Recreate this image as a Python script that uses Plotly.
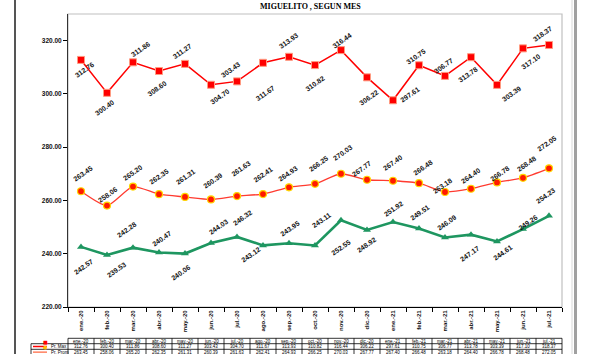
import plotly.graph_objects as go

# ---------------- data ----------------
months = ["ene.-20", "feb.-20", "mar.-20", "abr.-20", "may.-20", "jun.-20", "jul.-20",
          "ago.-20", "sep.-20", "oct.-20", "nov.-20", "dic.-20", "ene.-21", "feb.-21",
          "mar.-21", "abr.-21", "may.-21", "jun.-21", "jul.-21"]
pr_max = [312.76, 300.40, 311.86, 308.60, 311.27, 303.43, 304.70, 311.67, 313.93, 310.82,
          316.44, 306.22, 297.61, 310.75, 306.77, 313.78, 303.39, 317.10, 318.37]
pr_prom = [263.45, 258.06, 265.20, 262.35, 261.31, 260.39, 261.63, 262.41, 264.93, 266.25,
           270.03, 267.77, 267.40, 266.48, 263.18, 264.40, 266.78, 268.48, 272.05]
pr_min = [242.57, 239.53, 242.28, 240.47, 240.06, 244.03, 246.32, 243.12, 243.95, 243.11,
          252.55, 248.92, 251.92, 249.51, 246.09, 247.17, 244.61, 249.26, 254.23]
series_names = ["Pr. Max", "Pr. Prom", "Pr. Min"]
title_text = "MIGUELITO , SEGUN MES"

# ---------------- styles (label offsets in screen px: dx right, dy down) ----------------
off_max = [(4, 10), (-2, 15), (7, -13), (-2, 17), (-3, -12), (20, -15), (-17, 15), (2, 31),
           (0, -16), (0, 18), (1, -10), (2, 20), (17, -6), (-3, -9), (-1, -10), (-3, 17),
           (15, 9), (8, 13), (-6, -11)]
off_prom = [(2, -18), (1, -11), (0, -14), (0, -18), (1, -20), (2, -19), (4, -28), (0, -20),
            (-1, -14), (4, -20), (2, -21), (-5, -11), (0, -18), (4, -16), (-2, -6), (0, -13),
            (3, -9), (4, -14), (-2, -25)]
off_min = [(3, 20), (10, 15), (-6, -18), (3, -14), (-4, 19), (8, -16), (6, -19), (-12, 9),
           (1, -15), (6, -25), (0, 27), (0, 15), (1, -13), (1, -16), (2, -15), (-1, 19),
           (6, 11), (5, -7), (-3, -20)]

C_MAX = "#FF0000"
C_PROM_LINE = "#FF3B30"
C_MIN = "#1E9660"
FONT = "Liberation Sans"

W, H = 590, 354
L, R, T, B = 68, 28, 14, 47
PW, PH = W - L - R, H - T - B


def px2py(py):
    return (H - B - py) / PH


def px2px(px):
    return (px - L) / PW


fig = go.Figure()
fig.add_trace(go.Scatter(x=months, y=pr_max, mode="lines+markers", name=series_names[0],
                         line=dict(color=C_MAX, width=1.5),
                         marker=dict(symbol="square", size=7, color=C_MAX,
                                     line=dict(color="#FF9A80", width=1))))
fig.add_trace(go.Scatter(x=months, y=pr_prom, mode="lines+markers", name=series_names[1],
                         line=dict(color=C_PROM_LINE, width=1.3, shape="spline", smoothing=0.6),
                         marker=dict(symbol="circle", size=7, color="#FF1A00",
                                     line=dict(color="#FFD700", width=1.2))))
fig.add_trace(go.Scatter(x=months, y=pr_min, mode="lines+markers", name=series_names[2],
                         line=dict(color=C_MIN, width=2.6),
                         marker=dict(symbol="triangle-up", size=7, color=C_MIN)))

annotations = []
for vals, offs in ((pr_max, off_max), (pr_prom, off_prom), (pr_min, off_min)):
    for m, v, (dx, dy) in zip(months, vals, offs):
        annotations.append(dict(x=m, y=v, xref="x", yref="y", text=f"{v:.2f}",
                                showarrow=False, textangle=-35, xshift=dx, yshift=-dy,
                                font=dict(family=FONT, size=7, color="#111", weight="bold")))

# title (partially cropped in the original)
annotations.append(dict(x=px2px(310), y=px2py(0.5), xref="paper", yref="paper",
                        text=title_text, showarrow=False, xanchor="center", yanchor="top",
                        borderpad=0,
                        font=dict(family="Liberation Serif", size=8, color="#000", weight="bold")))

shapes = []
# outer frame lines
shapes.append(dict(type="line", xref="paper", yref="paper", x0=px2px(15), x1=px2px(15),
                   y0=px2py(0), y1=px2py(H), line=dict(color="#555", width=2)))
shapes.append(dict(type="line", xref="paper", yref="paper", x0=px2px(575.5), x1=px2px(575.5),
                   y0=px2py(0), y1=px2py(H), line=dict(color="#A0A0A0", width=3)))
shapes.append(dict(type="line", xref="paper", yref="paper", x0=px2px(572), x1=px2px(572),
                   y0=px2py(0), y1=px2py(H), line=dict(color="#D8D8D8", width=1)))
# plot area border (light)
shapes.append(dict(type="rect", xref="paper", yref="paper", x0=0, x1=1, y0=0, y1=1,
                   line=dict(color="#C0C0C0", width=1.2), layer="below"))

# data table
row_lines = [338.3, 343.7, 349.3, 355]
tbl_font = dict(family=FONT, size=4.5, color="#000")
for i, py in enumerate(row_lines):
    x0 = px2px(L) if i == 0 else px2px(31)
    shapes.append(dict(type="line", xref="paper", yref="paper", x0=x0, x1=1,
                       y0=px2py(py), y1=px2py(py), line=dict(color="#000", width=0.8)))
n = len(months)
for k in range(n + 1):
    xp = k / n
    shapes.append(dict(type="line", xref="paper", yref="paper", x0=xp, x1=xp,
                       y0=px2py(row_lines[0]), y1=px2py(H + 2), line=dict(color="#000", width=0.8)))
shapes.append(dict(type="line", xref="paper", yref="paper", x0=px2px(31), x1=px2px(31),
                   y0=px2py(row_lines[1]), y1=px2py(H + 2), line=dict(color="#000", width=0.8)))

row_texts = [months, [f"{v:.2f}" for v in pr_max], [f"{v:.2f}" for v in pr_prom]]
for r, texts in enumerate(row_texts):
    yc = px2py((row_lines[r] + row_lines[r + 1]) / 2)
    for m, t in zip(months, texts):
        annotations.append(dict(x=m, y=yc, xref="x", yref="paper", text=t, showarrow=False,
                                xanchor="center", yanchor="middle", font=tbl_font))

# legend keys in table
key_rows = [(series_names[0], C_MAX, "#FF0000", "square"), (series_names[1], "#FF8060", "#FFC000", "circle")]
for r, (nm, lc, mc, sym) in enumerate(key_rows):
    yc = px2py((row_lines[r + 1] + row_lines[r + 2]) / 2)
    shapes.append(dict(type="line", xref="paper", yref="paper", x0=px2px(33), x1=px2px(47),
                       y0=yc, y1=yc, line=dict(color=lc, width=1.5)))
    annotations.append(dict(x=px2px(41), y=yc, xref="paper", yref="paper", text="■" if sym == "square" else "●",
                            showarrow=False, font=dict(family="DejaVu Sans", size=5, color=mc)))
    annotations.append(dict(x=px2px(49), y=yc, xref="paper", yref="paper", text=nm, showarrow=False,
                            xanchor="left", yanchor="middle", font=tbl_font))

fig.update_layout(
    width=W, height=H, margin=dict(l=L, r=R, t=T, b=B),
    paper_bgcolor="white", plot_bgcolor="white", showlegend=False,
    annotations=annotations, shapes=shapes,
    xaxis=dict(type="category", range=[-0.5, n - 0.5], tickangle=-90, ticks="outside",
               tickson="boundaries", ticklen=4, tickcolor="#000", showline=True, linecolor="#000",
               linewidth=1, showgrid=False, zeroline=False,
               tickfont=dict(family=FONT, size=6, color="#111", weight="bold")),
    yaxis=dict(range=[220, 330], tickvals=[220, 240, 260, 280, 300, 320], tickformat=".2f",
               ticks="outside", ticklen=4, tickcolor="#000", showline=True, linecolor="#333",
               linewidth=1, showgrid=False, zeroline=False,
               tickfont=dict(family=FONT, size=6.5, color="#111", weight="bold")),
)

fig.write_html("out.html")
